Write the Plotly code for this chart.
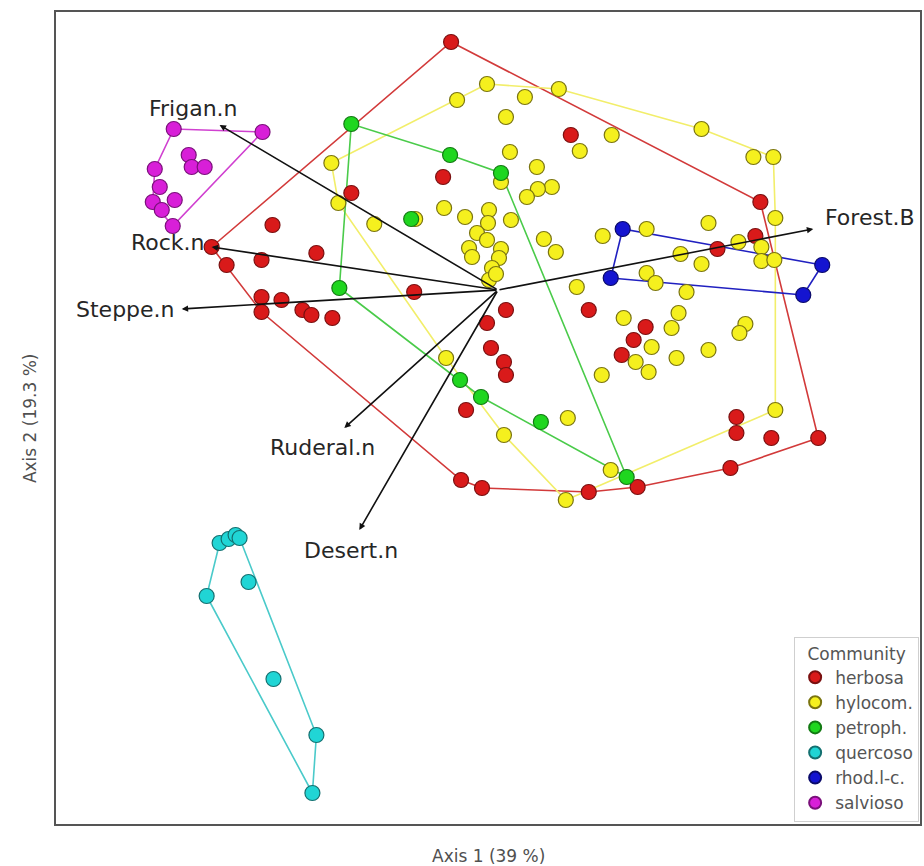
import plotly.graph_objects as go

# ---------------- data (biplot scores, in plot units; y grows downward) ----------------
herbosa_x = [452, 572, 444, 352, 273, 317, 262, 212, 227, 262, 282, 262, 303, 312, 333, 415, 488, 492, 505, 507, 507,
             467, 462, 483, 590, 639, 732, 738, 738, 773, 820, 590, 647, 635, 623, 719, 757, 762]
herbosa_y = [42, 135, 177, 193, 225, 253, 260, 247, 265, 297, 300, 312, 310, 315, 318, 292, 323, 348, 362, 375, 310,
             410, 480, 488, 492, 487, 468, 417, 433, 438, 438, 310, 327, 340, 355, 249, 236, 202]

hylocom_x = [488, 458, 526, 560, 507, 613, 703, 581, 511, 538, 502, 553, 539, 528, 445, 416, 466, 490, 512, 489, 478,
             488, 470, 473, 502, 500, 545, 557, 604, 648, 710, 682, 703, 755, 775, 777, 740, 763, 763, 776,
             747, 741, 710, 578, 648, 657, 688, 625, 680, 673, 653, 637, 650, 678, 603, 569, 505, 612, 567, 777,
             447, 332, 339, 375, 493, 490, 497]
hylocom_y = [84, 100, 97, 89, 117, 135, 129, 151, 152, 167, 182, 187, 189, 197, 208, 219, 217, 210, 220, 223, 233,
             240, 248, 257, 249, 258, 239, 252, 236, 229, 223, 254, 264, 157, 157, 218, 242, 247, 261, 260,
             324, 333, 350, 287, 273, 283, 292, 318, 313, 328, 347, 362, 372, 358, 375, 418, 435, 470, 500, 410,
             358, 163, 203, 224, 268, 280, 274]

petroph_x = [352, 412, 451, 502, 340, 461, 482, 542, 628]
petroph_y = [124, 219, 155, 173, 288, 380, 397, 422, 477]

quercoso_x = [220, 229, 236, 240, 207, 249, 274, 317, 313]
quercoso_y = [543, 539, 535, 538, 596, 582, 679, 735, 793]

rhod_x = [624, 612, 824, 805]
rhod_y = [229, 278, 265, 295]

salvioso_x = [174, 263, 189, 192, 205, 155, 160, 153, 175, 162, 173]
salvioso_y = [129, 132, 155, 167, 167, 169, 187, 202, 200, 210, 226]

groups = ["herbosa", "hylocom.", "petroph.", "quercoso", "rhod.l-c.", "salvioso"]

# environmental vectors
vec_names = ["Frigan.n", "Rock.n", "Steppe.n", "Ruderal.n", "Desert.n", "Forest.B"]
vec_x = [220, 212, 182, 345, 360, 815]
vec_y = [125, 247, 309, 428, 530, 229]
origin_x, origin_y = 499, 290

# ---------------- styles ----------------
fills = ["#D91A1A", "#F5F01E", "#1FD61F", "#20D5D5", "#1414D0", "#D81FD8"]
edges = ["#7A1010", "#7A7410", "#137A13", "#147070", "#0A0A6A", "#7A107A"]
hull_cols = ["#D23A3A", "#F2EE6A", "#4ACB4A", "#4ACACA", "#2020C0", "#D040D0"]
label_pos = [(194, 108, "center"), (207, 242, "right"), (177, 309, "right"),
             (323, 447, "center"), (352, 550, "center"), (825, 217, "left")]
FONT = "DejaVu Sans, Verdana, sans-serif"

series = [(herbosa_x, herbosa_y), (hylocom_x, hylocom_y), (petroph_x, petroph_y),
          (quercoso_x, quercoso_y), (rhod_x, rhod_y), (salvioso_x, salvioso_y)]


def convex_hull(xs, ys):
    pts = sorted(set(zip(xs, ys)))
    if len(pts) <= 2:
        return pts

    def cross(o, a, b):
        return (a[0] - o[0]) * (b[1] - o[1]) - (a[1] - o[1]) * (b[0] - o[0])

    lower, upper = [], []
    for p in pts:
        while len(lower) >= 2 and cross(lower[-2], lower[-1], p) <= 0:
            lower.pop()
        lower.append(p)
    for p in reversed(pts):
        while len(upper) >= 2 and cross(upper[-2], upper[-1], p) <= 0:
            upper.pop()
        upper.append(p)
    return lower[:-1] + upper[:-1]


fig = go.Figure()

# hulls
for (xs, ys), col in zip(series, hull_cols):
    h = convex_hull(xs, ys)
    h = h + [h[0]]
    fig.add_trace(go.Scatter(x=[p[0] for p in h], y=[p[1] for p in h], mode="lines",
                             line=dict(color=col, width=1.6), showlegend=False, hoverinfo="skip"))

# points
for (xs, ys), name, fc, ec in zip(series, groups, fills, edges):
    fig.add_trace(go.Scatter(x=xs, y=ys, mode="markers", name=name, legendgroup=name,
                             marker=dict(size=15, color=fc, line=dict(color=ec, width=1.2))))

# arrows and labels
annotations = []
for name, vx, vy, (lx, ly, anc) in zip(vec_names, vec_x, vec_y, label_pos):
    annotations.append(dict(x=vx, y=vy, ax=origin_x, ay=origin_y, xref="x", yref="y",
                            axref="x", ayref="y", text="", showarrow=True,
                            arrowhead=2, arrowsize=0.8, arrowwidth=1.6, arrowcolor="#111111"))
    annotations.append(dict(x=lx, y=ly, xref="x", yref="y", text=name, showarrow=False,
                            xanchor=anc, yanchor="middle",
                            font=dict(family=FONT, size=22, color="#262626")))

annotations.append(dict(x=0.5, y=-0.0394, xref="paper", yref="paper", text="Axis 1 (39 %)",
                        showarrow=False, xanchor="center", yanchor="middle",
                        font=dict(family=FONT, size=17, color="#505050")))
annotations.append(dict(x=-0.030, y=0.5, xref="paper", yref="paper", text="Axis 2 (19.3 %)",
                        showarrow=False, xanchor="center", yanchor="middle", textangle=-90,
                        font=dict(family=FONT, size=17, color="#505050")))

fig.update_layout(
    width=924, height=866,
    margin=dict(l=56, r=2, t=12, b=42),
    paper_bgcolor="white", plot_bgcolor="white",
    annotations=annotations,
    legend=dict(x=0.999, y=0.003, xanchor="right", yanchor="bottom",
                bgcolor="white", bordercolor="#CFCFCF", borderwidth=1,
                title=dict(text="Community", side="top center",
                           font=dict(family=FONT, size=17, color="#555555")),
                font=dict(family=FONT, size=17, color="#555555"),
                itemsizing="constant", tracegroupgap=0),
    showlegend=True,
)
fig.update_xaxes(range=[56, 922], showgrid=False, zeroline=False, showticklabels=False, ticks="",
                 showline=True, linecolor="#555555", linewidth=2, mirror=True)
fig.update_yaxes(range=[824, 12], showgrid=False, zeroline=False, showticklabels=False, ticks="",
                 showline=True, linecolor="#555555", linewidth=2, mirror=True)

fig.write_html("out.html", config={"displayModeBar": False},
               post_script="document.body.style.margin='0px';document.body.style.overflow='hidden';")
